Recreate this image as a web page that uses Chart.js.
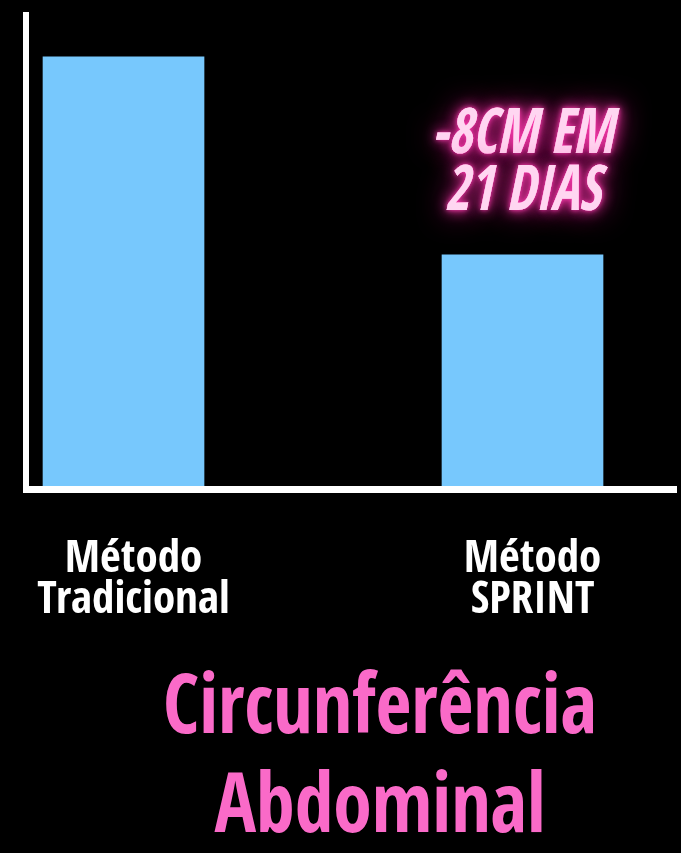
<!DOCTYPE html>
<html>
<head>
<meta charset="utf-8">
<script src="https://cdn.jsdelivr.net/npm/chart.js@4/dist/chart.umd.min.js"></script>
<style>
  html, body { margin: 0; padding: 0; background: #000; }
  #holder { width: 681px; height: 853px; position: relative; }
</style>
</head>
<body>
<div id="holder"><canvas id="chart"></canvas></div>
<script>
// data
const categories = ['Método Tradicional', 'Método SPRINT'];
const positions = [1, 2];
const values = [10.03, 5.44];
const annotationLines = ['-8CM EM', '21 DIAS'];
const titleLines = ['Circunferência', 'Abdominal'];

const narrow = "'Open Sans Condensed', 'Roboto Condensed', 'DejaVu Sans Condensed', sans-serif";

// glowing note above the SPRINT bar + big pink title under the axis
const textPlugin = {
    id: 'textPlugin',
    afterDraw(chart) {
        const ctx = chart.ctx;
        const bar = chart.getDatasetMeta(0).data[1];

        ctx.save();
        ctx.textAlign = 'center';
        ctx.textBaseline = 'alphabetic';
        ctx.font = "italic 800 63px " + narrow;
        let offs = [102, 45];
        annotationLines.forEach((line, i) => {
            ctx.save();
            ctx.translate(bar.x, bar.y - offs[i]);
            ctx.scale(0.83, 1);
            ctx.fillStyle = '#ffd6f1';
            ctx.shadowColor = '#e0158c';
            ctx.shadowBlur = 30;
            ctx.fillText(line, 0, 0);
            ctx.shadowColor = '#ff3cb0';
            ctx.shadowBlur = 14;
            ctx.fillText(line, 0, 0);
            ctx.shadowBlur = 5;
            ctx.fillText(line, 0, 0);
            ctx.restore();
        });

        ctx.font = "800 82px " + narrow;
        ctx.fillStyle = '#fa6ac8';
        let baselines = [733, 832];
        titleLines.forEach((line, i) => {
            ctx.save();
            ctx.translate(380, baselines[i]);
            ctx.scale(0.95, 1);
            ctx.fillText(line, 0, 0);
            ctx.restore();
        });
        ctx.restore();
    }
};

new Chart(document.getElementById('chart'), {
    type: 'bar',
    data: {
        datasets: [{
            data: positions.map((x, i) => ({ x: x, y: values[i] })),
            backgroundColor: '#77c8fd',
            borderWidth: 0,
            barThickness: 161
        }]
    },
    options: {
        responsive: true,
        maintainAspectRatio: false,
        animation: false,
        layout: { padding: { left: 26, top: 15, right: 5, bottom: 0 } },
        plugins: {
            legend: { display: false },
            tooltip: { enabled: false },
            title: { display: false }
        },
        scales: {
            x: {
                type: 'linear',
                offset: false,
                min: 0.7556,
                max: 2.3847,
                grid: { display: false, drawTicks: false },
                border: { display: true, color: '#ffffff', width: 7, z: 1 },
                afterBuildTicks: scale => {
                    scale.ticks = positions.map(p => ({ value: p }));
                },
                afterFit: scale => {
                    scale.height = 363.5;
                    scale.paddingLeft = 0;
                    scale.paddingRight = 0;
                },
                ticks: {
                    color: '#ffffff',
                    padding: 50,
                    labelOffset: 10,
                    maxRotation: 0,
                    autoSkip: false,
                    font: { family: narrow, size: 45, weight: 800, lineHeight: 0.92 },
                    callback: (value, index) => categories[index].split(' ')
                }
            },
            y: {
                min: 0,
                max: 11,
                grid: { display: false, drawTicks: false },
                border: { display: true, color: '#ffffff', width: 6, z: 1 },
                ticks: { display: false },
                afterFit: scale => { scale.width = 0; }
            }
        }
    },
    plugins: [textPlugin]
});
</script>
</body>
</html>
